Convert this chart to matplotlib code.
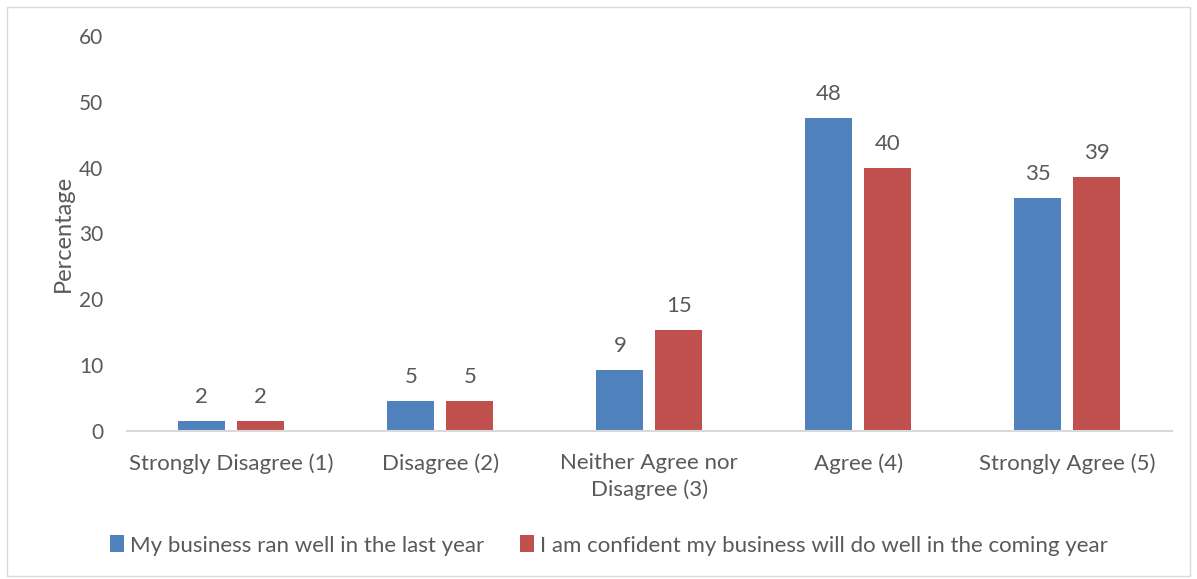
import matplotlib.pyplot as plt
import numpy as np
from matplotlib.patches import Rectangle

plt.rcParams['font.family'] = ['Lato', 'DejaVu Sans']

# Survey responses (percent of respondents)
categories = ['Strongly Disagree (1)', 'Disagree (2)', 'Neither Agree nor\nDisagree (3)',
              'Agree (4)', 'Strongly Agree (5)']
ran_well = [1.5, 4.6, 9.2, 47.6, 35.4]
confident = [1.5, 4.6, 15.3, 40.0, 38.6]
series_names = ['My business ran well in the last year',
                'I am confident my business will do well in the coming year']
y_ticks = [0, 10, 20, 30, 40, 50, 60]

text_color = '#595959'
blue = '#4F81BD'
red = '#C0504D'

fig = plt.figure(figsize=(11.97, 5.79), dpi=100)
ax = fig.add_axes([0.106, 0.256, 0.873, 0.682])

# outer chart border
fig.patches.append(Rectangle((0.006, 0.006), 0.988, 0.982, transform=fig.transFigure,
                             fill=False, edgecolor='#D9D9D9', linewidth=1))

x = np.arange(len(categories))
width = 0.225
offset = 0.141
b1 = ax.bar(x - offset, ran_well, width, color=blue, label=series_names[0])
b2 = ax.bar(x + offset, confident, width, color=red, label=series_names[1])

for bars, vals in ((b1, ran_well), (b2, confident)):
    for bar, v in zip(bars, vals):
        ax.annotate(f'{v:.0f}', (bar.get_x() + bar.get_width() / 2, v),
                    xytext=(0, 10), textcoords='offset points',
                    ha='center', va='bottom', fontsize=16, color=text_color)

ax.set_xlim(-0.5, len(categories) - 0.5)
ax.set_ylim(0, 60)
ax.set_yticks(y_ticks)
ax.set_xticks(x)
ax.set_xticklabels(categories, linespacing=1.4)
ax.tick_params(axis='x', length=0, labelsize=16, colors=text_color, pad=16)
ax.tick_params(axis='y', length=0, labelsize=15, colors=text_color, pad=17)
ax.set_ylabel('Percentage', fontsize=17, color=text_color, labelpad=4)

for side in ('left', 'right', 'top'):
    ax.spines[side].set_visible(False)
ax.spines['bottom'].set_color('#D9D9D9')
ax.spines['bottom'].set_linewidth(1.5)

fig.legend(loc='lower center', bbox_to_anchor=(0.509, 0.006), ncol=2, frameon=False,
           fontsize=16, labelcolor=text_color, handlelength=0.6, handleheight=0.8,
           handletextpad=0.3, columnspacing=1.6)

fig.savefig('out.png', dpi=100)
